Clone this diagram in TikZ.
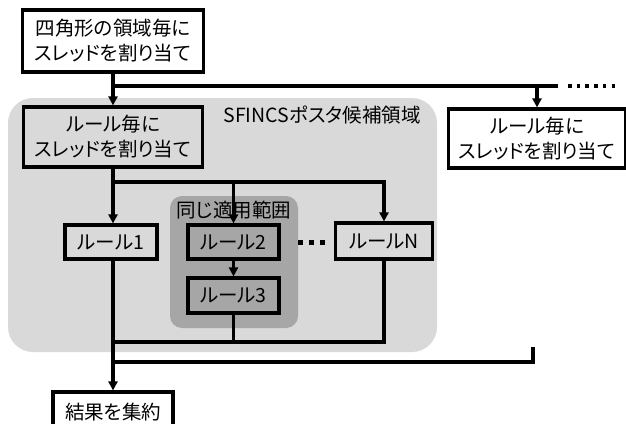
\documentclass[tikz,border=0pt]{standalone}
\usepackage{fontspec}
\setmainfont{Noto Sans CJK JP}[RawFeature={+palt}]
\usetikzlibrary{arrows.meta}
\definecolor{light}{HTML}{D9D9D9}
\definecolor{dark}{HTML}{A6A6A6}
\begin{document}
\begin{tikzpicture}[x=1pt,y=-1pt,
  box/.style={draw=black,line width=3.2pt,align=center,inner sep=0pt,font=\fontsize{19.5}{25}\selectfont},
  ln/.style={line width=3.2pt,line join=miter},
  arr/.style={-{Triangle[length=9pt,width=9pt]}},
  lbl/.style={inner sep=0pt,font=\fontsize{19.5}{25}\selectfont}]
\useasboundingbox (0,0) rectangle (626,423);
\clip (0,0) rectangle (626,423);
% regions
\fill[light,rounded corners=25pt] (8,98) rectangle (437,352);
\fill[dark,rounded corners=12pt] (170,196) rectangle (298,328);
\node[lbl] (reglbl) at (322,115) {SFINCSポスタ候補領域};
\node[lbl] (samelbl) at (234,210) {同じ適用範囲};
% nodes
\node[box,fill=white,minimum width=181pt,minimum height=62pt] (top) at (113,41) {四角形の領域毎に\\スレッドを割り当て};
\node[box,fill=light,minimum width=179pt,minimum height=60pt] (box2) at (113,137) {ルール毎に\\スレッドを割り当て};
\node[box,fill=white,minimum width=177pt,minimum height=59pt] (rbox) at (537,138.5) {ルール毎に\\スレッドを割り当て};
\node[box,fill=light,minimum width=92pt,minimum height=34pt] (r1) at (111,242) {ルール1};
\node[box,fill=dark,minimum width=91pt,minimum height=34pt] (r2) at (233.5,242) {ルール2};
\node[box,fill=dark,minimum width=91pt,minimum height=35pt] (r3) at (233.5,295.5) {ルール3};
\node[box,fill=light,minimum width=97pt,minimum height=36pt] (rN) at (384,241) {ルールN};
\node[box,fill=white,minimum width=120pt,minimum height=40pt] (res) at (113,412) {結果を集約};
% coordinates
\coordinate (j0) at (113,86);
\coordinate (jend) at (558,86);
\coordinate (jr) at (537,86);
\coordinate (d1) at (568,86);
\coordinate (d2) at (617,86);
\coordinate (b0) at (113,182);
\coordinate (b2) at (233.5,182);
\coordinate (c0) at (113,342);
\coordinate (c1) at (113,362);
\coordinate (c2) at (533,347);
\coordinate (e1) at (298,242);
\coordinate (e2) at (326,242);
% connectors
\draw[ln,arr] (top.south) -- (box2.north);
\draw[ln] (j0) -- (jend);
\draw[line width=3.6pt,dash pattern=on 3.6pt off 5.1pt] (d1) -- (d2);
\draw[ln,arr] (jr) -- (rbox.north);
\draw[ln,arr] (box2.south) -- (b0) -- (b0 |- r1.north);
\draw[ln,arr] (b0) -| (rN.north);
\draw[ln,arr] (b2) -- (r2.north);
\draw[ln,arr] (r2.south) -- (r3.north);
\draw[line width=5pt,dash pattern=on 5pt off 6pt] (e1) -- (e2);
\draw[ln,arr] (b0 |- r1.south) -- (res.north);
\draw[ln] (r3.south) -- (r3.south |- c0);
\draw[ln] (rN.south) |- (c0);
\draw[ln] (c2) |- (c1);
\end{tikzpicture}
\end{document}
